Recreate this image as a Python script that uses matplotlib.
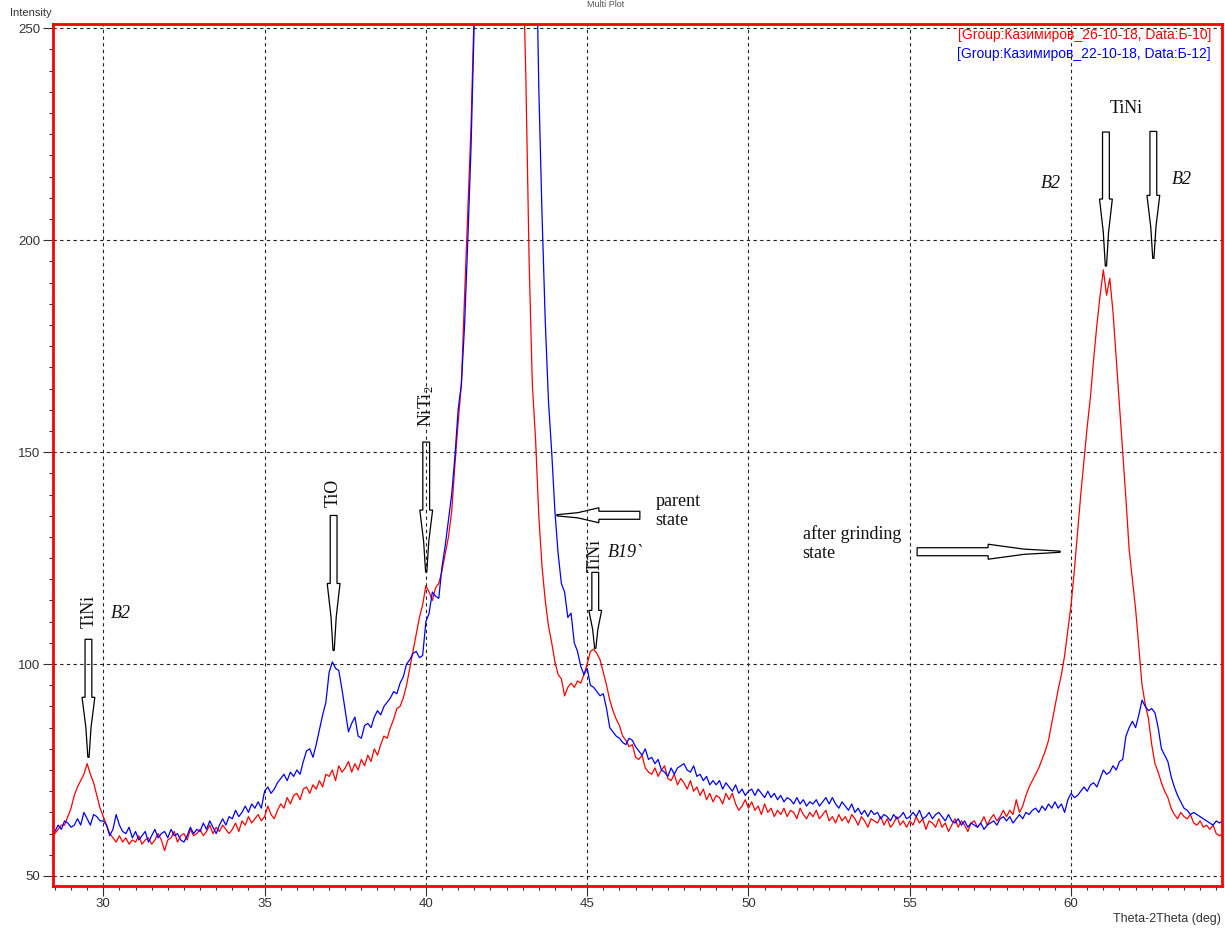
import matplotlib
matplotlib.use('Agg')
import matplotlib.pyplot as plt
import matplotlib.transforms as mtransforms
from matplotlib.patches import Polygon
import numpy as np

plt.rcParams['font.family'] = ['Liberation Sans', 'DejaVu Sans']

# 2theta sampling, one row of values per degree (28.0 ... 64.9)
two_theta = 28.0 + 0.1 * np.arange(370)

red_rows = [
    [58, 60, 59, 61, 59, 60, 61, 62, 62, 64],
    [66, 69, 71, 72.5, 74, 76.5, 74, 72, 69, 66],
    [64, 62, 60, 59, 58, 59.5, 58, 59, 57.5, 58.5],
    [58, 59.5, 57.5, 58.5, 59, 57.5, 58.5, 60, 58.5, 56],
    [58.5, 59, 60.5, 58, 59.5, 60, 58.5, 61, 59.5, 60],
    [61, 59.5, 60.5, 62, 60, 61.5, 60.5, 62, 61, 60],
    [61, 62.5, 60.5, 63, 62, 64, 62.5, 63.5, 64.5, 63],
    [64, 66.5, 64.5, 63.5, 65.5, 67, 66, 68.5, 67, 69],
    [69.5, 68, 70.5, 71, 69.5, 71.5, 70.5, 72.5, 71, 74],
    [73.5, 75, 72.5, 76, 74.5, 75.5, 77, 74.5, 76.5, 75],
    [77.5, 76, 78.5, 77, 80, 78.5, 81, 83, 82.5, 85],
    [87, 89.5, 90, 92, 95, 99, 103, 107, 111, 114],
    [118.5, 117, 115, 118, 119, 122, 126, 130, 136, 147],
    [157, 166, 187, 207, 227, 255, 300, 360, 450, 560],
    [700, 850, 950, 1000, 950, 820, 650, 500, 380, 300],
    [270, 238, 195, 166, 153, 135, 123, 115, 109, 105],
    [100.5, 97.5, 96.5, 92.5, 94.5, 95.5, 94.5, 96, 95.5, 97.5],
    [100, 103, 103.5, 102.5, 101, 98, 95, 91.5, 89, 87],
    [85.5, 83, 82, 80.5, 81, 78, 77.5, 78.5, 75.5, 74.5],
    [74, 75.5, 73.5, 75, 76, 73, 72.5, 74, 71.5, 73],
    [72, 70.5, 72.5, 70, 71, 69, 70.5, 68, 69.5, 67.5],
    [69, 68.5, 67, 69.5, 68, 69.5, 67, 65.5, 66.5, 68],
    [66, 67.5, 65.5, 66.5, 64.5, 67, 65, 66, 64, 65.5],
    [64.5, 66, 64, 65.5, 65, 63.5, 66, 64.5, 63.5, 65],
    [64, 65.5, 63.5, 64.5, 65.5, 63, 64, 62.5, 64.5, 63],
    [64, 62.5, 64.5, 63.5, 62, 64, 63, 61.5, 63.5, 63],
    [62.5, 64, 62, 63.5, 61.5, 62.5, 64, 62, 63, 61.5],
    [63, 62, 64, 62.5, 63.5, 61, 63, 62.5, 61.5, 63.5],
    [61.5, 62.5, 60.5, 62, 63.5, 61.5, 63, 62, 60.5, 62.5],
    [63, 61.5, 62.5, 64, 62, 63.5, 64.5, 63, 64, 65.5],
    [64, 65.5, 64.5, 68, 65, 66.5, 69, 71, 72.5, 74],
    [75.5, 77.5, 79.5, 82, 86, 90, 94, 97.5, 102, 108],
    [114, 122, 131, 140, 148, 156, 163, 172, 180, 187],
    [193, 187, 191, 183, 172, 161, 150, 139, 127, 120],
    [113, 104, 95, 90.5, 87, 81, 76.5, 74.5, 72, 70],
    [68.5, 66, 64.5, 63.5, 65, 64, 63.5, 64.5, 62.5, 62],
    [63, 61.5, 62, 61, 62, 60, 59.5, 60, 60, 60],
]

blue_rows = [
    [59, 61, 60, 59.5, 60, 60.5, 62, 61, 63, 62.5],
    [61.5, 62, 63.5, 62, 65, 63.5, 62, 64.5, 64, 63],
    [63, 62, 59.5, 61, 64.5, 62, 60.5, 60, 61.5, 59],
    [60.5, 58.5, 59.5, 60.5, 58, 59.5, 61, 59, 60, 60.5],
    [59, 61, 59.5, 60, 58.5, 58, 59.5, 61.5, 60, 61],
    [60.5, 62.5, 61, 63, 61.5, 60, 62, 63.5, 62, 64],
    [63.5, 65.5, 64, 65, 66.5, 65, 67, 66, 67.5, 66],
    [70, 71, 69.5, 70.5, 72, 73, 74, 72.5, 74.5, 73.5],
    [75, 74, 77, 79.5, 80, 78, 81, 84.5, 88, 91],
    [98, 100.5, 99, 98.5, 94, 89, 84, 86, 87.5, 83],
    [82.5, 85.5, 86, 85, 87.5, 89, 88, 90, 91, 92],
    [93.5, 93, 95.5, 97, 100, 101, 102.5, 103, 101.5, 102],
    [110, 112, 117, 116, 115.5, 123, 128, 134, 140, 149],
    [160, 166, 180, 200, 222, 252, 300, 380, 480, 600],
    [750, 900, 1050, 1150, 1200, 1150, 1000, 850, 700, 580],
    [470, 400, 350, 310, 280, 236, 206, 181, 162, 150],
    [136, 126, 119, 117, 111, 112, 105, 103, 99.5, 97.5],
    [99, 95, 94.5, 93.5, 92.5, 93, 89.5, 85, 84, 83],
    [82.5, 81.5, 81, 82.5, 82, 80.5, 79.5, 78.5, 80, 77.5],
    [78, 76.5, 77.5, 75, 74.5, 73.5, 75.5, 74, 75.5, 76],
    [76.5, 75, 74.5, 76, 73.5, 74, 72.5, 73.5, 71.5, 72.5],
    [71.5, 72.5, 70.5, 72, 71, 70, 71.5, 69.5, 70.5, 69],
    [70, 70.5, 69, 70.5, 69.5, 68.5, 70, 68.5, 69.5, 68],
    [69, 67.5, 68.5, 68, 67, 68.5, 67, 68, 66.5, 67.5],
    [67, 68, 66.5, 67.5, 68.5, 67, 68.5, 67, 66, 67.5],
    [66.5, 65.5, 67, 65, 66, 64.5, 65.5, 64, 65.5, 64.5],
    [65, 63.5, 64.5, 64, 63, 64.5, 63.5, 64, 65, 63.5],
    [64, 65, 64, 65.5, 63.5, 64, 65, 63.5, 64.5, 65],
    [64, 63, 64.5, 63, 62.5, 63.5, 62, 63, 61.5, 62.5],
    [62, 61.5, 62.5, 61, 62, 62.5, 63, 62, 63.5, 64],
    [63, 64, 62.5, 63.5, 64.5, 63.5, 65, 64.5, 65.5, 66],
    [65, 66.5, 65.5, 67, 66, 67.5, 66, 67, 65, 68],
    [69.5, 68.5, 69, 70, 71, 70, 71.5, 72, 71, 73],
    [75, 74, 74.5, 76, 75, 77, 77.5, 83, 85, 86.5],
    [85, 88, 91.5, 90, 89, 89.5, 88.5, 85, 80, 78.5],
    [77, 73.5, 71, 69, 67.5, 66, 65.5, 64.5, 65, 64.5],
    [64, 63.5, 63, 62.5, 62, 63, 62.5, 63, 63, 63],
]

red_label = '[Group:Казимиров_26-10-18, Data:Б-10]'
blue_label = '[Group:Казимиров_22-10-18, Data:Б-12]'

red = np.array(red_rows, dtype=float).ravel()
blue = np.array(blue_rows, dtype=float).ravel()

fig = plt.figure(figsize=(12.25, 9.33), dpi=100)
ax = fig.add_axes([0.0431, 0.0507, 0.9545, 0.9233])

ax.plot(two_theta, red, color='#ff0000', lw=0.9)
ax.plot(two_theta, blue, color='#0000ff', lw=0.9)

ax.set_xlim(28.435, 64.68)
ax.set_ylim(47.71, 250.94)
ax.set_xticks(range(30, 65, 5))
ax.set_yticks(range(50, 251, 50))
ax.set_xticks(np.arange(28.5, 64.6, 0.5), minor=True)
ax.set_yticks(range(50, 251, 5), minor=True)
ax.grid(True, which='major', color='#222222', linestyle=(0, (3, 3)), linewidth=0.8)
for s in ax.spines.values():
    s.set_color('#ff0000')
    s.set_linewidth(2)
ax.tick_params(which='major', length=7, width=0.8, color='#333333',
               labelsize=9.5, labelcolor='#333333', pad=2)
ax.tick_params(which='minor', length=3, width=0.8, color='#333333')

fig.text(10 / 1225, 1 - 12.5 / 933, 'Intensity', fontsize=8, color='#333333',
         ha='left', va='center')
fig.text(1221 / 1225, 1 - 919 / 933, 'Theta-2Theta (deg)', fontsize=9,
         color='#333333', ha='right', va='center')
fig.text(0.494, 0.9995, 'Multi Plot', fontsize=6.5, color='#555555',
         ha='center', va='top')
fig.text(1211 / 1225, 1 - 34.7 / 933, red_label, color='#ff0000', fontsize=10,
         ha='right', va='center')
fig.text(1211 / 1225, 1 - 54 / 933, blue_label, color='#0000ff', fontsize=10,
         ha='right', va='center')


def hollow_arrow(x, y, length, head, direction='down', hs=3.4, hh=6.4):
    # outline of a hollow arrow, tip at (0, 0), sizes in pixels
    pts = np.array([(hs, length), (hs, head), (hh, head), (2.6, head * 0.5),
                    (0.6, 0), (-0.6, 0), (-2.6, head * 0.5), (-hh, head),
                    (-hs, head), (-hs, length)])
    if direction == 'left':
        pts = pts[:, ::-1]
    elif direction == 'right':
        pts = pts[:, ::-1] * np.array([-1, 1])
    trans = (mtransforms.Affine2D().scale(1 / fig.dpi) + fig.dpi_scale_trans +
             mtransforms.ScaledTranslation(x, y, ax.transData))
    ax.add_patch(Polygon(pts, closed=True, facecolor='none', edgecolor='black',
                         lw=0.9, transform=trans, zorder=5, clip_on=False))


hollow_arrow(29.54, 78, 118, 60)
hollow_arrow(37.14, 103.2, 135, 67)
hollow_arrow(40.01, 121.7, 130, 62)
hollow_arrow(45.25, 103.7, 76, 38)
hollow_arrow(61.08, 193.9, 134, 67)
hollow_arrow(62.55, 195.7, 127, 63)
hollow_arrow(44.06, 135.1, 83, 42, 'left', hs=4, hh=7.5)
hollow_arrow(59.66, 126.5, 143, 72, 'right', hs=4, hh=7.5)

serif = ['Liberation Serif', 'DejaVu Serif']
plt.rcParams['mathtext.fontset'] = 'stix'
kw = dict(family=serif, fontsize=13, color='#111111', ha='center', va='center')
ax.text(29.57, 112.5, 'TiNi', rotation=90, **kw)
ax.text(37.13, 140.5, 'TiO', rotation=90, **kw)
ax.text(40.0, 160.8, r'NiTi$_\mathregular{2}$', rotation=90, **kw)
ax.text(45.25, 125.7, 'TiNi', rotation=90, **kw)
ax.text(61.71, 231, 'TiNi', **kw)
ax.text(30.54, 111.9, 'B2', style='italic', **kw)
ax.text(59.36, 213.3, 'B2', style='italic', **kw)
ax.text(63.44, 214.2, 'B2', style='italic', **kw)
ax.text(45.65, 126.4, 'B19`', style='italic', family=serif, fontsize=13,
        color='#111111', ha='left', va='center')
ax.text(47.12, 136, 'parent\nstate', family=serif, fontsize=13, color='#111111',
        ha='left', va='center', linespacing=1.15)
ax.text(51.68, 128.5, 'after grinding\nstate', family=serif, fontsize=13,
        color='#111111', ha='left', va='center', linespacing=1.15)

fig.savefig('out.png', dpi=100)
